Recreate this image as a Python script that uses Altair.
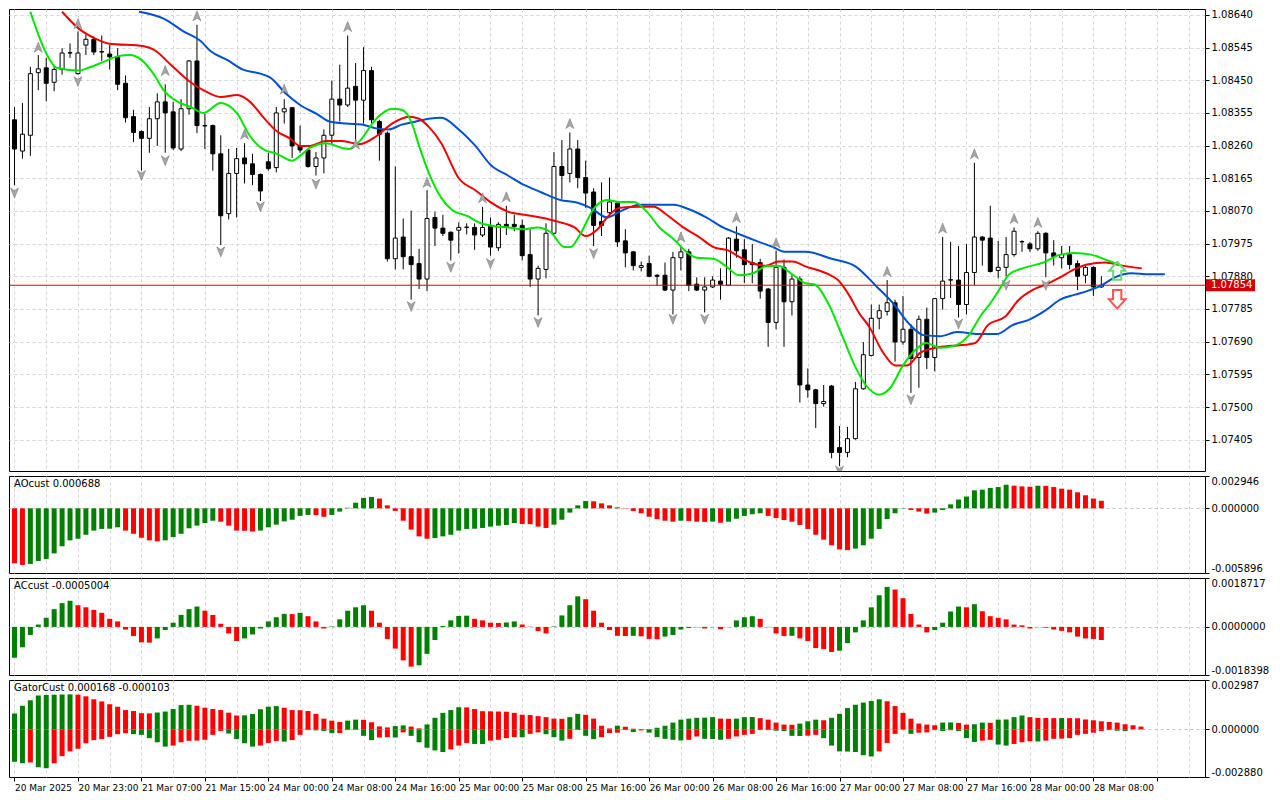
import altair as alt
import pandas as pd

FONT = "DejaVu Sans"
W = 1196
H_MAIN = 462
H_SUB = 97
X_DOMAIN = [-0.0625, 149.4375]

# ---------------- data ----------------
time_labels = ["20 Mar 2025", "20 Mar 23:00", "21 Mar 07:00", "21 Mar 15:00", "24 Mar 00:00",
               "24 Mar 08:00", "24 Mar 16:00", "25 Mar 00:00", "25 Mar 08:00", "25 Mar 16:00",
               "26 Mar 00:00", "26 Mar 08:00", "26 Mar 16:00", "27 Mar 00:00", "27 Mar 08:00",
               "27 Mar 16:00", "28 Mar 00:00", "28 Mar 08:00"]

opens = [1.08335, 1.08244, 1.08290, 1.08472, 1.08486, 1.08444, 1.08481, 1.08529, 1.08469, 1.08552,
         1.08569, 1.08532, 1.08526, 1.08518, 1.08441, 1.08344, 1.08301, 1.08281, 1.08338, 1.08387,
         1.08358, 1.08250, 1.08367, 1.08506, 1.08318, 1.08318, 1.08236, 1.08062, 1.08179, 1.08224,
         1.08207, 1.08176, 1.08213, 1.08196, 1.08358, 1.08370, 1.08259, 1.08247, 1.08199, 1.08224,
         1.08290, 1.08395, 1.08378, 1.08432, 1.08392, 1.08478, 1.08330, 1.08296, 1.07931, 1.07994,
         1.07937, 1.07917, 1.07872, 1.08051, 1.08020, 1.08008, 1.08014, 1.08022, 1.08022, 1.08000,
         1.08025, 1.07963, 1.08031, 1.08031, 1.08028, 1.07943, 1.07872, 1.07900, 1.08005, 1.08199,
         1.08179, 1.08250, 1.08167, 1.08125, 1.08039, 1.08065, 1.08093, 1.07983, 1.07951, 1.07906,
         1.07917, 1.07883, 1.07883, 1.07840, 1.07934, 1.07951, 1.07857, 1.07840, 1.07849, 1.07866,
         1.07854, 1.07988, 1.07957, 1.07920, 1.07920, 1.07843, 1.07746, 1.07906, 1.07806, 1.07872,
         1.07564, 1.07550, 1.07510, 1.07561, 1.07382, 1.07368, 1.07408, 1.07553, 1.07650, 1.07758,
         1.07778, 1.07803, 1.07689, 1.07726, 1.07644, 1.07755, 1.07644, 1.07815, 1.07869, 1.07869,
         1.07798, 1.07891, 1.07994, 1.07991, 1.07897, 1.07906, 1.07943, 1.07980, 1.07974, 1.07960,
         1.08005, 1.07948, 1.07934, 1.07943, 1.07917, 1.07883, 1.07906, 1.07849]
highs = [1.08372, 1.08384, 1.08489, 1.08523, 1.08515, 1.08492, 1.08543, 1.08557, 1.08592, 1.08583,
         1.08577, 1.08580, 1.08552, 1.08543, 1.08464, 1.08364, 1.08304, 1.08372, 1.08412, 1.08438,
         1.08387, 1.08395, 1.08509, 1.08611, 1.08352, 1.08321, 1.08290, 1.08250, 1.08253, 1.08267,
         1.08236, 1.08179, 1.08239, 1.08372, 1.08395, 1.08372, 1.08318, 1.08250, 1.08241, 1.08307,
         1.08449, 1.08495, 1.08580, 1.08500, 1.08546, 1.08489, 1.08335, 1.08301, 1.08199, 1.08048,
         1.08071, 1.07960, 1.08130, 1.08068, 1.08059, 1.08011, 1.08037, 1.08034, 1.08034, 1.08082,
         1.08051, 1.08037, 1.08085, 1.08059, 1.08045, 1.08017, 1.07911, 1.08034, 1.08241, 1.08276,
         1.08298, 1.08276, 1.08216, 1.08136, 1.08153, 1.08167, 1.08096, 1.08017, 1.07954, 1.07923,
         1.07940, 1.07886, 1.07920, 1.07951, 1.07965, 1.07960, 1.07877, 1.07877, 1.07880, 1.07903,
         1.07994, 1.08025, 1.07988, 1.07974, 1.07931, 1.07846, 1.07954, 1.07929, 1.07883, 1.07880,
         1.07612, 1.07553, 1.07564, 1.07564, 1.07445, 1.07442, 1.07573, 1.07689, 1.07798, 1.07798,
         1.07869, 1.07812, 1.07823, 1.07741, 1.07766, 1.07789, 1.07817, 1.07994, 1.07980, 1.07968,
         1.07974, 1.08210, 1.07997, 1.08085, 1.07983, 1.07994, 1.08022, 1.07985, 1.07980, 1.08011,
         1.08008, 1.07985, 1.07968, 1.07968, 1.07926, 1.07914, 1.07909, 1.07880]
lows = [1.08145, 1.08222, 1.08230, 1.08421, 1.08389, 1.08418, 1.08466, 1.08515, 1.08466, 1.08523,
        1.08523, 1.08506, 1.08481, 1.08421, 1.08327, 1.08270, 1.08187, 1.08239, 1.08259, 1.08239,
        1.08247, 1.08244, 1.08350, 1.08296, 1.08250, 1.08187, 1.07971, 1.08045, 1.08051, 1.08150,
        1.08145, 1.08099, 1.08187, 1.08182, 1.08324, 1.08224, 1.08239, 1.08196, 1.08173, 1.08179,
        1.08264, 1.08330, 1.08372, 1.08273, 1.08324, 1.08324, 1.08216, 1.07923, 1.07900, 1.07900,
        1.07812, 1.07843, 1.07837, 1.07968, 1.07997, 1.07926, 1.07946, 1.08002, 1.07957, 1.07994,
        1.07940, 1.07954, 1.08000, 1.08011, 1.07926, 1.07849, 1.07766, 1.07874, 1.08002, 1.08105,
        1.08153, 1.08136, 1.08079, 1.07968, 1.07997, 1.08059, 1.07965, 1.07906, 1.07897, 1.07894,
        1.07877, 1.07852, 1.07837, 1.07769, 1.07897, 1.07837, 1.07837, 1.07775, 1.07846, 1.07812,
        1.07852, 1.07934, 1.07860, 1.07860, 1.07815, 1.07675, 1.07726, 1.07675, 1.07766, 1.07513,
        1.07527, 1.07439, 1.07501, 1.07351, 1.07328, 1.07354, 1.07405, 1.07550, 1.07647, 1.07726,
        1.07766, 1.07632, 1.07681, 1.07541, 1.07556, 1.07610, 1.07604, 1.07783, 1.07817, 1.07760,
        1.07769, 1.07854, 1.07911, 1.07891, 1.07874, 1.07880, 1.07937, 1.07951, 1.07951, 1.07954,
        1.07877, 1.07911, 1.07903, 1.07900, 1.07840, 1.07860, 1.07823, 1.07846]
closes = [1.08250, 1.08293, 1.08469, 1.08483, 1.08441, 1.08481, 1.08529, 1.08530, 1.08529, 1.08569,
          1.08532, 1.08533, 1.08518, 1.08438, 1.08341, 1.08298, 1.08281, 1.08338, 1.08387, 1.08355,
          1.08253, 1.08367, 1.08506, 1.08318, 1.08317, 1.08236, 1.08056, 1.08179, 1.08222, 1.08207,
          1.08176, 1.08128, 1.08193, 1.08355, 1.08367, 1.08259, 1.08247, 1.08199, 1.08224, 1.08290,
          1.08395, 1.08378, 1.08427, 1.08392, 1.08478, 1.08335, 1.08293, 1.07931, 1.07991, 1.07937,
          1.07914, 1.07872, 1.08048, 1.08020, 1.08005, 1.07985, 1.08022, 1.08023, 1.08000, 1.08022,
          1.07965, 1.08031, 1.08025, 1.08025, 1.07940, 1.07872, 1.07903, 1.08005, 1.08199, 1.08173,
          1.08250, 1.08167, 1.08122, 1.08028, 1.08028, 1.08096, 1.07980, 1.07948, 1.07911, 1.07911,
          1.07880, 1.07880, 1.07840, 1.07934, 1.07951, 1.07854, 1.07840, 1.07849, 1.07869, 1.07857,
          1.07991, 1.07954, 1.07914, 1.07914, 1.07837, 1.07746, 1.07906, 1.07806, 1.07872, 1.07564,
          1.07550, 1.07510, 1.07516, 1.07368, 1.07368, 1.07408, 1.07553, 1.07652, 1.07758, 1.07780,
          1.07803, 1.07689, 1.07726, 1.07641, 1.07755, 1.07644, 1.07815, 1.07866, 1.07870, 1.07798,
          1.07891, 1.07994, 1.07985, 1.07894, 1.07906, 1.07943, 1.08011, 1.07981, 1.07960, 1.08005,
          1.07948, 1.07937, 1.07943, 1.07914, 1.07880, 1.07906, 1.07849, 1.07854]

jaw_bar = [15.7, 18.8, 21.3, 23.5, 24.7, 26.8, 28.8, 31.0, 32.2, 34.3, 36.0, 38.1, 39.7, 41.8, 43.8,
           45.6, 47.2, 48.8, 50.6, 52.2, 53.8, 56.0, 58.1, 60.1, 62.2, 64.3, 66.3, 68.8, 71.0, 72.6,
           74.7, 76.3, 78.8, 83.1, 85.1, 87.2, 89.3, 91.3, 93.5, 95.6, 97.2, 99.7, 103.0, 106.0, 108.6,
           110.7, 112.8, 114.6, 116.7, 118.8, 121.5, 123.8, 125.8, 128.0, 130.1, 131.8, 133.6, 135.2,
           136.9, 138.7, 140.8, 143.0, 145.0]
jaw_price = [1.08649, 1.08629, 1.08592, 1.08563, 1.08535, 1.08509, 1.08481, 1.08469, 1.08458, 1.08409,
             1.08378, 1.08352, 1.08330, 1.08324, 1.08321, 1.08310, 1.08307, 1.08321, 1.08330, 1.08338,
             1.08341, 1.08307, 1.08259, 1.08202, 1.08173, 1.08145, 1.08125, 1.08102, 1.08094, 1.08079,
             1.08051, 1.08068, 1.08088, 1.08088, 1.08074, 1.08051, 1.08022, 1.08003, 1.07983, 1.07965,
             1.07951, 1.07951, 1.07931, 1.07909, 1.07852, 1.07803, 1.07741, 1.07709, 1.07706, 1.07718,
             1.07712, 1.07712, 1.07738, 1.07755, 1.07783, 1.07812, 1.07826, 1.07837, 1.07852, 1.07877,
             1.07889, 1.07886, 1.07886]
teeth_bar = [6.0, 8.1, 10.1, 11.8, 16.3, 17.6, 19.7, 22.2, 23.8, 26.0, 28.1, 29.7, 31.3, 33.1, 34.7,
             36.0, 37.2, 39.3, 41.3, 43.5, 45.6, 47.6, 49.7, 51.0, 52.2, 53.8, 56.0, 58.1, 60.1, 62.2,
             64.3, 66.3, 68.5, 70.6, 72.0, 73.5, 74.7, 76.3, 78.8, 80.6, 82.2, 84.3, 86.3, 88.1, 90.1,
             91.3, 93.1, 94.7, 96.3, 98.1, 99.7, 102.6, 103.8, 105.1, 106.5, 107.7, 109.5, 111.0, 112.5,
             114.2, 116.1, 118.1, 119.9, 121.1, 122.7, 124.9, 126.6, 128.3, 130.1, 131.8, 133.6, 135.2,
             137.5, 139.6, 142.1]
teeth_price = [1.08649, 1.08600, 1.08572, 1.08557, 1.08549, 1.08538, 1.08495, 1.08444, 1.08421, 1.08401,
               1.08407, 1.08387, 1.08344, 1.08301, 1.08281, 1.08259, 1.08259, 1.08273, 1.08273, 1.08264,
               1.08287, 1.08324, 1.08344, 1.08338, 1.08315, 1.08267, 1.08165, 1.08130, 1.08094, 1.08068,
               1.08059, 1.08051, 1.08039, 1.08022, 1.07997, 1.08017, 1.08051, 1.08079, 1.08082, 1.08082,
               1.08059, 1.08022, 1.07994, 1.07965, 1.07954, 1.07937, 1.07917, 1.07911, 1.07923, 1.07923,
               1.07909, 1.07886, 1.07869, 1.07829, 1.07772, 1.07735, 1.07658, 1.07621, 1.07621, 1.07658,
               1.07672, 1.07678, 1.07681, 1.07686, 1.07738, 1.07763, 1.07812, 1.07840, 1.07857, 1.07877,
               1.07900, 1.07914, 1.07920, 1.07911, 1.07903]
lips_bar = [2.0, 3.1, 4.3, 5.3, 8.1, 9.3, 11.0, 13.1, 14.5, 16.0, 17.6, 18.8, 20.6, 22.2, 23.8, 26.0,
            28.1, 29.7, 31.3, 33.1, 35.0, 36.0, 37.2, 39.3, 41.3, 42.2, 43.5, 45.6, 47.6, 48.8, 50.1,
            51.0, 52.2, 53.8, 55.1, 57.2, 58.5, 60.6, 62.2, 64.3, 65.9, 67.6, 69.3, 70.1, 71.3, 73.1,
            74.7, 76.3, 78.1, 79.7, 81.3, 83.1, 84.7, 86.0, 88.1, 89.7, 91.3, 93.1, 94.7, 96.3, 98.2,
            99.7, 100.8, 102.6, 104.2, 105.9, 107.3, 109.0, 110.4, 112.0, 113.7, 114.9, 116.7, 118.5,
            120.2, 121.9, 122.9, 124.1, 125.4, 127.5, 129.7, 131.8, 133.6, 135.7, 137.8, 139.6]
lips_price = [1.08649, 1.08577, 1.08515, 1.08486, 1.08478, 1.08486, 1.08501, 1.08520, 1.08523, 1.08509,
              1.08466, 1.08421, 1.08387, 1.08372, 1.08355, 1.08384, 1.08352, 1.08287, 1.08250, 1.08236,
              1.08216, 1.08230, 1.08253, 1.08267, 1.08253, 1.08250, 1.08273, 1.08338, 1.08367, 1.08364,
              1.08324, 1.08259, 1.08182, 1.08108, 1.08074, 1.08054, 1.08037, 1.08025, 1.08022, 1.08017,
              1.08022, 1.08008, 1.07965, 1.07965, 1.08002, 1.08079, 1.08102, 1.08096, 1.08096, 1.08068,
              1.08022, 1.07988, 1.07951, 1.07934, 1.07931, 1.07909, 1.07883, 1.07889, 1.07909, 1.07911,
              1.07883, 1.07860, 1.07857, 1.07800, 1.07715, 1.07621, 1.07564, 1.07536, 1.07556, 1.07621,
              1.07669, 1.07686, 1.07672, 1.07678, 1.07706, 1.07769, 1.07798, 1.07840, 1.07886, 1.07906,
              1.07920, 1.07943, 1.07948, 1.07943, 1.07926, 1.07911]

up_fractal_bar = [3, 8, 19, 23, 29, 34, 42, 43, 52, 59, 62, 70, 84, 91, 96, 110, 117, 121, 126, 129]
up_fractal_price = [1.08546, 1.08614, 1.08478, 1.08637, 1.08293, 1.08424, 1.08606, 1.08264, 1.08153,
                    1.08108, 1.08111, 1.08324, 1.07994, 1.08051, 1.07977, 1.07894, 1.08020, 1.08236,
                    1.08048, 1.08037]
down_fractal_bar = [0, 8, 16, 19, 26, 31, 38, 50, 55, 60, 66, 73, 83, 87, 104, 113, 119, 125, 130]
down_fractal_price = [1.08122, 1.08446, 1.08173, 1.08216, 1.07951, 1.08082, 1.08148, 1.07792, 1.07906,
                      1.07917, 1.07746, 1.07946, 1.07755, 1.07755, 1.07314, 1.07521, 1.07741, 1.07854,
                      1.07854]
signal_up_bar = [139]
signal_up_price = [1.07896]
signal_down_bar = [139]
signal_down_price = [1.07813]

ao_values = [-0.00501, -0.00516, -0.00507, -0.00480, -0.00462, -0.00411, -0.00346, -0.00292, -0.00277, -0.00241,
             -0.00203, -0.00188, -0.00186, -0.00173, -0.00203, -0.00232, -0.00268, -0.00292, -0.00301, -0.00292,
             -0.00262, -0.00232, -0.00182, -0.00158, -0.00134, -0.00113, -0.00122, -0.00158, -0.00203, -0.00205,
             -0.00212, -0.00203, -0.00173, -0.00149, -0.00119, -0.00104, -0.00069, -0.00060, -0.00062, -0.00077,
             -0.00060, -0.00030, 0.00005, 0.00051, 0.00095, 0.00104, 0.00089, 0.00027, -0.00024, -0.00113,
             -0.00194, -0.00256, -0.00277, -0.00271, -0.00256, -0.00241, -0.00203, -0.00188, -0.00186, -0.00179,
             -0.00167, -0.00158, -0.00152, -0.00134, -0.00143, -0.00145, -0.00167, -0.00179, -0.00149, -0.00104,
             -0.00039, 0.00027, 0.00066, 0.00064, 0.00045, 0.00027, 0.00009, -0.00003, -0.00024, -0.00045,
             -0.00077, -0.00098, -0.00113, -0.00122, -0.00113, -0.00115, -0.00122, -0.00124, -0.00121, -0.00131,
             -0.00122, -0.00095, -0.00069, -0.00054, -0.00045, -0.00069, -0.00089, -0.00107, -0.00122, -0.00152,
             -0.00188, -0.00241, -0.00286, -0.00337, -0.00375, -0.00381, -0.00367, -0.00337, -0.00277, -0.00188,
             -0.00098, -0.00045, -0.00003, -0.00015, -0.00030, -0.00048, -0.00039, -0.00015, 0.00036, 0.00080,
             0.00107, 0.00164, 0.00170, 0.00185, 0.00194, 0.00215, 0.00206, 0.00200, 0.00197, 0.00206,
             0.00205, 0.00194, 0.00179, 0.00170, 0.00146, 0.00119, 0.00089, 0.000688]
ac_values = [-0.00118, -0.00078, -0.00031, 0.00009, 0.00035, 0.00068, 0.00091, 0.00100, 0.00083, 0.00075,
             0.00065, 0.00054, 0.00031, 0.00021, -0.00010, -0.00035, -0.00059, -0.00060, -0.00044, -0.00012,
             0.00016, 0.00046, 0.00068, 0.00078, 0.00062, 0.00046, 0.00012, -0.00025, -0.00054, -0.00044,
             -0.00029, -0.00006, 0.00021, 0.00037, 0.00050, 0.00049, 0.00054, 0.00041, 0.00021, -0.00006,
             0.00002, 0.00029, 0.00062, 0.00075, 0.00083, 0.00062, 0.00016, -0.00046, -0.00083, -0.00128,
             -0.00152, -0.00147, -0.00103, -0.00050, 0.00004, 0.00025, 0.00042, 0.00043, 0.00031, 0.00025,
             0.00016, 0.00015, 0.00017, 0.00021, 0.00009, 0.00001, -0.00016, -0.00025, 0.00002, 0.00044,
             0.00083, 0.00117, 0.00106, 0.00062, 0.00016, -0.00012, -0.00034, -0.00035, -0.00034, -0.00036,
             -0.00046, -0.00047, -0.00037, -0.00031, -0.00010, -0.00004, -0.00001, -0.00006, -0.00001, -0.00009,
             -0.00001, 0.00025, 0.00037, 0.00041, 0.00031, -0.00001, -0.00025, -0.00035, -0.00034, -0.00044,
             -0.00054, -0.00081, -0.00085, -0.00096, -0.00091, -0.00062, -0.00021, 0.00025, 0.00075, 0.00121,
             0.00153, 0.00143, 0.00110, 0.00050, 0.00009, -0.00021, -0.00012, 0.00016, 0.00059, 0.00078,
             0.00075, 0.00087, 0.00060, 0.00041, 0.00035, 0.00029, 0.00009, 0.00006, -0.00006, -0.00001,
             -0.00003, -0.00010, -0.00015, -0.00021, -0.00037, -0.00044, -0.00046, -0.0005004]
gator_upper = [0.00096, 0.00143, 0.00176, 0.00205, 0.00208, 0.00210, 0.00211, 0.00212, 0.00210, 0.00200,
               0.00182, 0.00169, 0.00152, 0.00137, 0.00117, 0.00111, 0.00098, 0.00097, 0.00102, 0.00108,
               0.00123, 0.00147, 0.00149, 0.00143, 0.00131, 0.00123, 0.00117, 0.00101, 0.00084, 0.00085,
               0.00093, 0.00122, 0.00137, 0.00141, 0.00131, 0.00117, 0.00116, 0.00111, 0.00094, 0.00065,
               0.00053, 0.00045, 0.00053, 0.00059, 0.00058, 0.00043, 0.00018, 0.00012, 0.00020, 0.00024,
               0.00017, 0.00006, 0.00030, 0.00070, 0.00100, 0.00117, 0.00134, 0.00133, 0.00123, 0.00110,
               0.00109, 0.00108, 0.00107, 0.00100, 0.00088, 0.00087, 0.00080, 0.00074, 0.00065, 0.00064,
               0.00074, 0.00094, 0.00088, 0.00065, 0.00022, 0.00006, 0.00022, 0.00016, 0.00004, 0.00002,
               0.00001, 0.00010, 0.00022, 0.00041, 0.00059, 0.00065, 0.00070, 0.00071, 0.00074, 0.00065,
               0.00064, 0.00065, 0.00074, 0.00075, 0.00068, 0.00059, 0.00041, 0.00029, 0.00028, 0.00035,
               0.00049, 0.00059, 0.00055, 0.00070, 0.00094, 0.00129, 0.00149, 0.00162, 0.00172, 0.00182,
               0.00170, 0.00141, 0.00100, 0.00065, 0.00035, 0.00029, 0.00025, 0.00041, 0.00042, 0.00039,
               0.00029, 0.00031, 0.00041, 0.00040, 0.00059, 0.00060, 0.00074, 0.00084, 0.00074, 0.00070,
               0.00069, 0.00068, 0.00069, 0.00068, 0.00067, 0.00060, 0.00055, 0.00049, 0.00045, 0.00041,
               0.00031, 0.00025, 0.000168]
gator_lower = [-0.00196, -0.00205, -0.00200, -0.00229, -0.00235, -0.00205, -0.00162, -0.00133, -0.00117, -0.00084,
               -0.00065, -0.00059, -0.00045, -0.00029, -0.00023, -0.00029, -0.00033, -0.00053, -0.00078, -0.00104,
               -0.00098, -0.00078, -0.00069, -0.00068, -0.00063, -0.00033, -0.00010, -0.00025, -0.00059, -0.00084,
               -0.00104, -0.00098, -0.00082, -0.00070, -0.00074, -0.00065, -0.00033, -0.00004, -0.00006, -0.00010,
               -0.00023, -0.00022, -0.00004, -0.00003, -0.00039, -0.00065, -0.00049, -0.00047, -0.00049, -0.00018,
               -0.00039, -0.00078, -0.00111, -0.00127, -0.00137, -0.00121, -0.00098, -0.00082, -0.00088, -0.00089,
               -0.00068, -0.00063, -0.00053, -0.00047, -0.00048, -0.00027, -0.00018, -0.00029, -0.00047, -0.00068,
               -0.00057, -0.00004, -0.00039, -0.00059, -0.00047, -0.00022, -0.00020, -0.00004, -0.00016, -0.00006,
               -0.00020, -0.00047, -0.00057, -0.00063, -0.00067, -0.00063, -0.00043, -0.00057, -0.00058, -0.00063,
               -0.00057, -0.00043, -0.00033, -0.00027, -0.00004, -0.00004, -0.00008, -0.00010, -0.00039, -0.00040,
               -0.00038, -0.00033, -0.00053, -0.00098, -0.00133, -0.00134, -0.00137, -0.00156, -0.00164, -0.00133,
               -0.00082, -0.00027, -0.00002, -0.00027, -0.00020, -0.00018, -0.00004, -0.00010, -0.00005, -0.00010,
               -0.00053, -0.00076, -0.00068, -0.00063, -0.00092, -0.00098, -0.00088, -0.00078, -0.00072, -0.00073,
               -0.00068, -0.00057, -0.00056, -0.00053, -0.00033, -0.00027, -0.00020, -0.00010, -0.00004, -0.00008,
               -0.000103]

price_ticks = [1.08640, 1.08545, 1.08450, 1.08355, 1.08260, 1.08165, 1.08070, 1.07975, 1.07880,
               1.07785, 1.07690, 1.07595, 1.07500, 1.07405]
main_range = [1.07314, 1.08657]
ao_range = [-0.005896, 0.002946]
ac_range = [-0.0018398, 0.0018717]
gator_range = [-0.002880, 0.002987]

# ---------------- helpers ----------------
GREEN_H, RED_H = "#008000", "#ff0000"
MINUS_FIX = "replace(datum.label, '\u2212', '-')"
UP_ARROW = "M 0 -1 L 0.8 1 L 0 0.45 L -0.8 1 Z"
DOWN_ARROW = "M 0 1 L 0.8 -1 L 0 -0.45 L -0.8 -1 Z"
BLOCK_UP = "M -0.45 1 L 0.45 1 L 0.45 0 L 0.9 0 L 0 -1 L -0.9 0 L -0.45 0 Z"
BLOCK_DOWN = "M -0.45 -1 L 0.45 -1 L 0.45 0 L 0.9 0 L 0 1 L -0.9 0 L -0.45 0 Z"
LABEL_BOX = "M -1 -0.245 L 1 -0.245 L 1 0.245 L -1 0.245 Z"


def dir_colors(vals, first, negative=False):
    out = [first]
    for a, b in zip(vals[:-1], vals[1:]):
        grow = (b < a) if negative else (b > a)
        out.append("g" if grow else "r")
    return out


xs = alt.Scale(domain=X_DOMAIN, nice=False, zero=False)
grid_vals = list(range(0, 150, 4))
x_plain = alt.Axis(values=grid_vals, labels=False, ticks=False, domain=False, grid=True,
                   gridColor="#d4d4d4", gridDash=[3, 3], title=None)
lbl_js = "[" + ",".join("'" + t + "'" for t in time_labels) + "]"
x_time = alt.Axis(values=grid_vals,
                  labelExpr="datum.value % 8 === 0 ? " + lbl_js + "[datum.value / 8] : ''",
                  labelAlign="left", labelPadding=2, labelOverlap=False, labelFlush=False,
                  labelFontSize=9,
                  domain=False, ticks=True, tickSize=4,
                  tickColor={"condition": {"test": "datum.value % 8 === 0", "value": "black"},
                             "value": "transparent"},
                  grid=True, gridColor="#d4d4d4", gridDash=[3, 3], title=None)

hist_color = alt.Color("col:N", scale=alt.Scale(domain=["g", "r"], range=[GREEN_H, RED_H]), legend=None)

# ---------------- main price panel ----------------
n = len(opens)
cdf = pd.DataFrame({"bar": list(range(n)), "open": opens, "high": highs, "low": lows, "close": closes})
cdf["dir"] = ["up" if c >= o else "down" for o, c in zip(opens, closes)]

ys_main = alt.Scale(domain=main_range, nice=False, zero=False)
y_main_axis = alt.Axis(orient="right", values=price_ticks, format=".5f", grid=True, gridColor="#d4d4d4",
                       gridDash=[3, 3], tickSize=4, tickColor="black", domain=False, labelPadding=2,
                       title=None)
xm = alt.X("bar:Q", scale=xs, axis=x_plain, title=None)


def ym(field):
    return alt.Y(field, scale=ys_main, axis=y_main_axis, title=None)


last_df = pd.DataFrame({"price": [closes[-1]], "label": [f"{closes[-1]:.5f}"]})

wicks = alt.Chart(cdf).mark_rule(color="black", strokeWidth=1, clip=True).encode(
    x=xm, y=ym("low:Q"), y2="high:Q")
bodies = alt.Chart(cdf).mark_bar(size=4, stroke="black", strokeWidth=1, clip=True).encode(
    x=xm, y=ym("open:Q"), y2="close:Q",
    fill=alt.Fill("dir:N", scale=alt.Scale(domain=["up", "down"], range=["white", "black"]), legend=None))
price_line = alt.Chart(last_df).mark_rule(color="#e00000", strokeWidth=1).encode(y=ym("price:Q"))


def line_layer(bars, prices, color):
    df = pd.DataFrame({"bar": bars, "price": prices})
    return alt.Chart(df).mark_line(color=color, strokeWidth=2, interpolate="monotone", clip=True).encode(
        x=xm, y=ym("price:Q"))


jaw = line_layer(jaw_bar, jaw_price, "#0050d2")
teeth = line_layer(teeth_bar, teeth_price, "#f00000")
lips = line_layer(lips_bar, lips_price, "#00e600")


def marker_layer(bars, prices, shape, size, color, filled, stroke_w):
    df = pd.DataFrame({"bar": bars, "price": prices})
    if filled:
        mk = alt.Chart(df).mark_point(shape=shape, size=size, filled=True, fill=color, stroke="#6e6e6e",
                                      strokeWidth=stroke_w, opacity=1, clip=True)
    else:
        mk = alt.Chart(df).mark_point(shape=shape, size=size, filled=False, color=color,
                                      strokeWidth=stroke_w, opacity=1, clip=True)
    return mk.encode(x=xm, y=ym("price:Q"))


up_fr = marker_layer(up_fractal_bar, up_fractal_price, UP_ARROW, 100, "#a6a6a6", True, 0.5)
down_fr = marker_layer(down_fractal_bar, down_fractal_price, DOWN_ARROW, 100, "#a6a6a6", True, 0.5)
sig_up = marker_layer(signal_up_bar, signal_up_price, BLOCK_UP, 324, "#74d474", False, 2)
sig_down = marker_layer(signal_down_bar, signal_down_price, BLOCK_DOWN, 340, "#ff5252", False, 2)

price_box = alt.Chart(last_df).mark_point(shape=LABEL_BOX, size=2401, filled=True, color="#d00000",
                                          opacity=1, strokeWidth=0, clip=False).encode(
    x=alt.value(W + 25.5), y=ym("price:Q"))
price_text = alt.Chart(last_df).mark_text(align="left", baseline="middle", color="white", fontSize=10,
                                          font=FONT, clip=False).encode(
    x=alt.value(W + 6), y=ym("price:Q"), text="label:N")

main = alt.layer(wicks, bodies, price_line, jaw, teeth, lips, up_fr, down_fr, sig_up, sig_down,
                 price_box, price_text).properties(width=W, height=H_MAIN)


# ---------------- sub panels ----------------
def sub_axis(rng, fmt):
    return alt.Axis(orient="right", values=[rng[1], 0, rng[0]], format=fmt, labelExpr=MINUS_FIX,
                    labelFlush=True, grid=True, gridDash=[3, 3],
                    gridColor={"condition": {"test": "datum.value === 0", "value": "#c4c4c4"},
                               "value": "transparent"},
                    tickSize=4, tickColor="black", domain=False, labelPadding=2, title=None)


def title_layer(text):
    return alt.Chart(alt.Data(values=[{"t": text}])).mark_text(
        align="left", baseline="middle", fontSize=10, font=FONT, color="black").encode(
        x=alt.value(5), y=alt.value(8), text="t:N")


def hist_layer(vals, first, negative, rng, fmt, xaxis):
    df = pd.DataFrame({"bar": list(range(len(vals))), "v": vals,
                       "col": dir_colors(vals, first, negative)})
    return alt.Chart(df).mark_bar(size=5, clip=True).encode(
        x=alt.X("bar:Q", scale=xs, axis=xaxis, title=None),
        y=alt.Y("v:Q", scale=alt.Scale(domain=rng, nice=False, zero=False), axis=sub_axis(rng, fmt),
                title=None),
        y2=alt.datum(0),
        color=hist_color)


ao_chart = alt.layer(
    hist_layer(ao_values, "r", False, ao_range, ".6f", x_plain),
    title_layer(f"AOcust {ao_values[-1]:.6f}"),
).properties(width=W, height=H_SUB)

ac_chart = alt.layer(
    hist_layer(ac_values, "g", False, ac_range, ".7f", x_plain),
    title_layer(f"ACcust {ac_values[-1]:.7f}"),
).properties(width=W, height=H_SUB)

gator_chart = alt.layer(
    hist_layer(gator_upper, "g", False, gator_range, ".6f", x_time),
    hist_layer(gator_lower, "g", True, gator_range, ".6f", x_time),
    title_layer(f"GatorCust {gator_upper[-1]:.6f} {gator_lower[-1]:.6f}"),
).properties(width=W, height=H_SUB)

chart = alt.vconcat(main, ao_chart, ac_chart, gator_chart, spacing=3).properties(
    padding={"left": 0, "top": 0, "right": 2, "bottom": 2}, background="white"
).configure_view(stroke="black", strokeWidth=1).configure_axis(
    labelFont=FONT, labelFontSize=10, labelColor="black"
).configure_text(font=FONT)

chart.save("out.html", embed_options={"renderer": "svg", "actions": False})
